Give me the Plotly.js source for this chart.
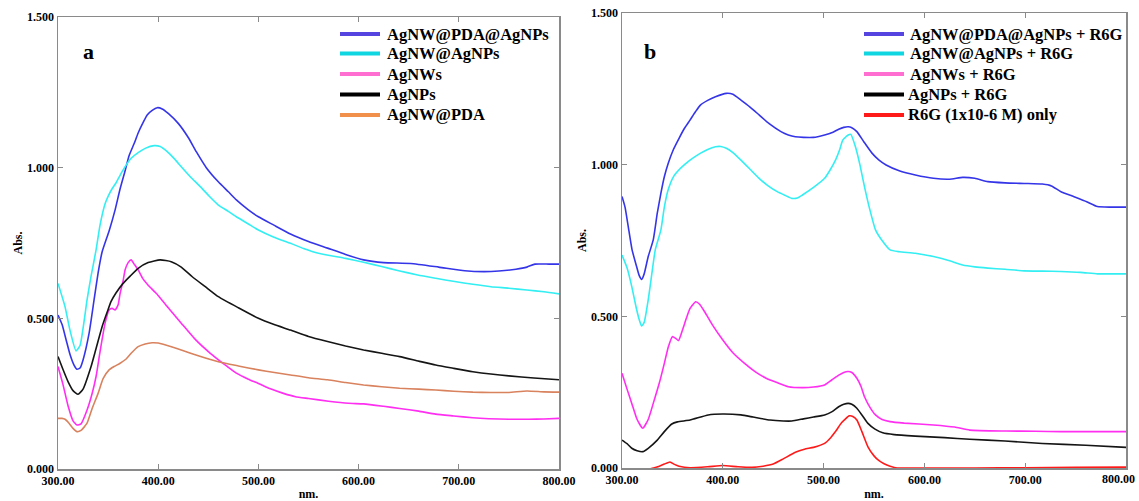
<!DOCTYPE html>
<html>
<head>
<meta charset="utf-8">
<script src="https://cdn.plot.ly/plotly-3.0.1.min.js"></script>
<style>html,body{margin:0;padding:0;background:#fff;}#chart{width:1139px;height:501px;}</style>
</head>
<body>
<div id="chart"></div>
<script>
// ---------- Panel a ----------
const aNames = ['AgNW@PDA@AgNPs', 'AgNW@AgNPs', 'AgNWs', 'AgNPs', 'AgNW@PDA'];

const aBlueX = [300,304,308,312,316,319,322,325,331,336,340,344,351,357,362,367,371,376,380,385,389,394,399,404,410,420,430,438,448,460,470,478,490,500,515,532,550,569,587,605,625,652,680,706,725,740,757,768,776,790,800];
const aBlueY = [0.511,0.48,0.43,0.38,0.345,0.331,0.335,0.362,0.45,0.561,0.65,0.72,0.79,0.86,0.93,0.99,1.04,1.08,1.115,1.15,1.175,1.19,1.199,1.195,1.18,1.147,1.10,1.053,1.00,0.953,0.92,0.893,0.86,0.837,0.81,0.78,0.755,0.733,0.712,0.694,0.685,0.682,0.67,0.658,0.655,0.657,0.663,0.67,0.68,0.68,0.68];

const aCyanX = [300,307,312,318,322,329,333,338,342,347,350,354,358,364,373,380,387,396,402,409,416,423,432,442,451,460,470,478,490,500,515,532,545,560,587,605,623,640,659,677,696,714,732,750,768,785,800];
const aCyanY = [0.616,0.539,0.46,0.392,0.41,0.561,0.64,0.727,0.81,0.88,0.905,0.93,0.95,0.987,1.031,1.05,1.064,1.073,1.07,1.053,1.03,1.003,0.97,0.937,0.905,0.876,0.855,0.837,0.813,0.793,0.77,0.749,0.732,0.716,0.699,0.686,0.672,0.658,0.644,0.633,0.622,0.613,0.605,0.6,0.594,0.588,0.581];

const aMagX = [300,305,310,315,319,323,329,334,338,342,347,351,354,357,360,362,365,367,370,373,376,380,385,390,398,410,423,437,452,465,478,490,500,512,525,537,550,570,590,605,625,641,660,677,695,714,730,750,770,785,800];
const aMagY = [0.34,0.28,0.21,0.16,0.146,0.15,0.196,0.25,0.307,0.39,0.484,0.528,0.533,0.528,0.545,0.583,0.625,0.661,0.685,0.694,0.68,0.661,0.63,0.61,0.583,0.535,0.484,0.43,0.384,0.35,0.318,0.298,0.284,0.266,0.251,0.24,0.234,0.225,0.218,0.216,0.208,0.201,0.192,0.182,0.176,0.170,0.167,0.165,0.165,0.166,0.168];

const aBlackX = [300,305,310,315,320,325,333,338,344,349,353,358,365,372,380,390,402,413,423,434,447,460,480,500,515,532,550,569,587,605,623,641,660,677,695,714,732,750,775,800];
const aBlackY = [0.373,0.33,0.29,0.26,0.248,0.265,0.34,0.40,0.472,0.52,0.556,0.585,0.616,0.64,0.666,0.685,0.694,0.688,0.67,0.638,0.605,0.572,0.535,0.500,0.48,0.461,0.44,0.423,0.408,0.395,0.384,0.373,0.358,0.345,0.334,0.323,0.315,0.309,0.302,0.296];

const aOrgX = [300,304,307,311,315,319,323,329,334,340,345,351,356,362,368,373,380,387,394,400,405,414,423,440,460,480,500,516,532,550,569,587,605,623,641,660,677,695,714,732,750,768,785,800];
const aOrgY = [0.168,0.168,0.165,0.152,0.135,0.124,0.128,0.152,0.2,0.251,0.30,0.329,0.34,0.351,0.365,0.384,0.406,0.415,0.419,0.418,0.414,0.405,0.395,0.376,0.356,0.342,0.329,0.32,0.312,0.303,0.296,0.287,0.279,0.273,0.268,0.265,0.262,0.258,0.255,0.254,0.254,0.259,0.256,0.255];

// ---------- Panel b ----------
const bNames = ['AgNW@PDA@AgNPs + R6G', 'AgNW@AgNPs + R6G', 'AgNWs + R6G', 'AgNPs + R6G', 'R6G (1x10-6 M) only'];

const bBlueX = [300,303,306,310,314,317,319.5,322,326,331,335,338.6,342,345.8,351,356.6,362,367.5,373,378,385,392.7,403.5,410,418,427,436,446,457.7,465,472,480,490,501,508,515,520,524.4,528,533,540,548,555,562,575,591,609,625,638,650,663,680,699,717,726,735.5,748,761,771.6,785,800];
const bBlueY = [0.895,0.86,0.8,0.719,0.67,0.635,0.622,0.64,0.697,0.752,0.84,0.906,0.96,1.004,1.05,1.087,1.12,1.147,1.175,1.197,1.212,1.224,1.235,1.232,1.213,1.19,1.164,1.135,1.109,1.098,1.092,1.09,1.09,1.098,1.105,1.117,1.123,1.125,1.122,1.109,1.075,1.038,1.015,0.999,0.98,0.966,0.955,0.952,0.958,0.955,0.944,0.94,0.938,0.936,0.93,0.911,0.895,0.878,0.862,0.86,0.86];

const bCyanX = [300,305,309.7,314,317,319.5,322,326,330,333,338.6,342,345.8,351,356.6,362,367.5,378,385,392.7,398,403.5,410,418,427,436,445,454,461,468.5,474,479,490,501,506,511.8,516,519,524.4,527,531.6,536,540.6,546,551.5,558,566,575,591,609,625,638,650,663,680,699,717,735.5,755,771.6,785,800];
const bCyanY = [0.702,0.66,0.598,0.53,0.49,0.468,0.48,0.554,0.65,0.719,0.785,0.86,0.917,0.96,0.983,1.0,1.015,1.038,1.05,1.059,1.06,1.054,1.04,1.015,0.985,0.955,0.93,0.911,0.9,0.889,0.89,0.9,0.925,0.955,0.98,1.015,1.05,1.081,1.098,1.1,1.059,1.0,0.927,0.85,0.785,0.75,0.719,0.713,0.708,0.697,0.683,0.669,0.663,0.659,0.655,0.650,0.649,0.648,0.645,0.640,0.640,0.640];

const bMagX = [300,305,309.7,315,320.6,326,331,337,342,346,350,353,356,360,364,367.5,373,377,382,390,400,410,421.6,432,443,455,465,479,490,501,508,515,520,524.4,528,533,537,540.6,546,551.5,558,566,580,609,630,645,681,710,735.5,770,800];
const bMagY = [0.312,0.26,0.213,0.16,0.131,0.16,0.213,0.28,0.345,0.40,0.433,0.428,0.42,0.455,0.495,0.526,0.548,0.54,0.515,0.47,0.422,0.38,0.345,0.318,0.296,0.28,0.268,0.265,0.267,0.274,0.29,0.306,0.315,0.318,0.315,0.296,0.27,0.235,0.2,0.175,0.16,0.153,0.148,0.142,0.135,0.125,0.122,0.121,0.120,0.120,0.120];

const bBlackX = [300,305,309.7,315,320.6,326,335,342,349.4,355,367.5,385.5,400,418,430,446.8,460,468.5,480,490,501,508,515,520,524.4,528,533,538,544,551,558.7,570,591,620,645,680,717,760,800];
const bBlackY = [0.092,0.08,0.065,0.057,0.054,0.065,0.092,0.12,0.145,0.152,0.158,0.175,0.178,0.175,0.168,0.158,0.155,0.155,0.162,0.168,0.175,0.185,0.202,0.21,0.213,0.21,0.197,0.175,0.147,0.128,0.116,0.11,0.105,0.1,0.095,0.089,0.081,0.075,0.068];

const bRedX = [300,315,331,337,342,347.6,352,356.6,367.5,385,400,415,428.8,440,450,460,472,481,490,501,507,511.8,518,525.5,529,533,538,544,550,555,560,566,573,600,650,700,750,800];
const bRedY = [-0.03,-0.015,0.0,0.006,0.013,0.02,0.012,0.006,0.001,0.004,0.008,0.004,0.002,0.006,0.013,0.03,0.052,0.062,0.068,0.081,0.1,0.12,0.15,0.172,0.17,0.158,0.12,0.07,0.04,0.024,0.014,0.006,0.0,0.0,0.0,0.001,0.002,0.003];

// tick labels
const xTickVals = [300, 400, 500, 600, 700, 800];
const xTickText = ['300.00', '400.00', '500.00', '600.00', '700.00', '800.00'];
const yTickVals = [0, 0.5, 1.0, 1.5];
const yTickText = ['0.000', '0.500', '1.000', '1.500'];

// ---------- styling ----------
const lineColors = ['#3535e8', '#33eef2', '#ff2ef0', '#151515', '#d9825e'];
const legendColorsA = ['#5544e0', '#10d6e2', '#ff6ed0', '#000000', '#f0904a'];
const lineColorsB = ['#3535e8', '#33eef2', '#ff2ef0', '#151515', '#ff1a1a'];
const legendColorsB = ['#5544e0', '#10d6e2', '#ff6ed0', '#000000', '#ff1a1a'];

const aXs = [aBlueX, aCyanX, aMagX, aBlackX, aOrgX];
const aYs = [aBlueY, aCyanY, aMagY, aBlackY, aOrgY];
const bXs = [bBlueX, bCyanX, bMagX, bBlackX, bRedX];
const bYs = [bBlueY, bCyanY, bMagY, bBlackY, bRedY];

const SERIF = 'Liberation Serif';
const W = 1139, H = 501;
const traces = [];
for (let i = 0; i < 5; i++) {
  traces.push({x: aXs[i], y: aYs[i], type: 'scatter', mode: 'lines', name: aNames[i],
    line: {color: lineColors[i], width: 1.6, shape: 'spline', smoothing: 0.5}, xaxis: 'x', yaxis: 'y', showlegend: false});
}
for (let i = 0; i < 5; i++) {
  traces.push({x: bXs[i], y: bYs[i], type: 'scatter', mode: 'lines', name: bNames[i],
    line: {color: lineColorsB[i], width: 1.6, shape: 'spline', smoothing: 0.5}, xaxis: 'x2', yaxis: 'y2', showlegend: false});
}

const tickFont = {family: SERIF, size: 12, color: '#000', weight: 'bold'};
const titleFont = {family: SERIF, size: 12, color: '#000', weight: 'bold'};
function xAx(domain, anchor, text) {
  return {domain: domain, anchor: anchor, range: [300, 800], tickmode: 'array', tickvals: xTickVals, ticktext: text,
    showgrid: false, zeroline: false, showline: true, linecolor: '#8a8a8a', linewidth: 1.5,
    mirror: 'ticks', ticks: 'inside', ticklen: 5, tickwidth: 1, tickcolor: '#8a8a8a',
    tickfont: tickFont, title: {text: 'nm.', font: titleFont, standoff: 11}, automargin: false};
}
function yAx(domain, anchor) {
  return {domain: domain, anchor: anchor, range: [0, 1.5], tickmode: 'array', tickvals: yTickVals, ticktext: yTickText,
    showgrid: false, zeroline: false, showline: true, linecolor: '#8a8a8a', linewidth: 1.5,
    mirror: 'ticks', ticks: 'inside', ticklen: 5, tickwidth: 1, tickcolor: '#8a8a8a',
    tickfont: tickFont, title: {text: 'Abs.', font: titleFont, standoff: 2}, automargin: false};
}

// legend drawn in paper space: swatch + label per entry
const legFont = {family: SERIF, size: 16.5, color: '#000', weight: 'bold'};
const legRowsY = [34, 53.5, 74, 94.5, 115];
const shapes = [];
const annotations = [];
for (let i = 0; i < 5; i++) {
  const yy = 1 - legRowsY[i] / H;
  shapes.push({type: 'line', xref: 'paper', yref: 'paper', x0: 340 / W, x1: 380 / W, y0: yy, y1: yy,
    line: {color: legendColorsA[i], width: 4}});
  annotations.push({text: aNames[i], xref: 'paper', yref: 'paper', x: 385 / W, y: yy, xanchor: 'left', yanchor: 'middle',
    showarrow: false, font: legFont});
  shapes.push({type: 'line', xref: 'paper', yref: 'paper', x0: 864 / W, x1: 904 / W, y0: yy, y1: yy,
    line: {color: legendColorsB[i], width: 4}});
  annotations.push({text: bNames[i], xref: 'paper', yref: 'paper', x: (i >= 3 ? 906 : 908) / W, y: yy, xanchor: 'left', yanchor: 'middle',
    showarrow: false, font: legFont});
}
annotations.push({text: 'a', xref: 'paper', yref: 'paper', x: 81 / W, y: 1 - 37 / H, showarrow: false,
  font: {family: SERIF, size: 22, color: '#000', weight: 'bold'}});
annotations.push({text: 'b', xref: 'paper', yref: 'paper', x: 650 / W, y: 1 - 37 / H, showarrow: false,
  font: {family: SERIF, size: 22, color: '#000', weight: 'bold'}});
// last x tick label of panel b, nudged inside the page edge as in the original
annotations.push({text: xTickText[5], xref: 'paper', yref: 'paper', x: 1137 / W, y: 1 - 479 / H, xanchor: 'right', yanchor: 'middle',
  showarrow: false, font: tickFont});

const bTickText = xTickText.slice(0, 5).concat(['']);

const layout = {
  width: W, height: H,
  margin: {l: 0, r: 0, t: 0, b: 0},
  paper_bgcolor: '#fff', plot_bgcolor: '#fff',
  showlegend: false,
  xaxis: xAx([58 / W, 559 / W], 'y', xTickText),
  yaxis: yAx([1 - 469 / H, 1 - 17 / H], 'x'),
  xaxis2: xAx([622 / W, 1126 / W], 'y2', bTickText),
  yaxis2: yAx([1 - 468 / H, 1 - 13 / H], 'x2'),
  shapes: shapes,
  annotations: annotations
};

Plotly.newPlot('chart', traces, layout, {displayModeBar: false, staticPlot: true});
</script>
</body>
</html>
